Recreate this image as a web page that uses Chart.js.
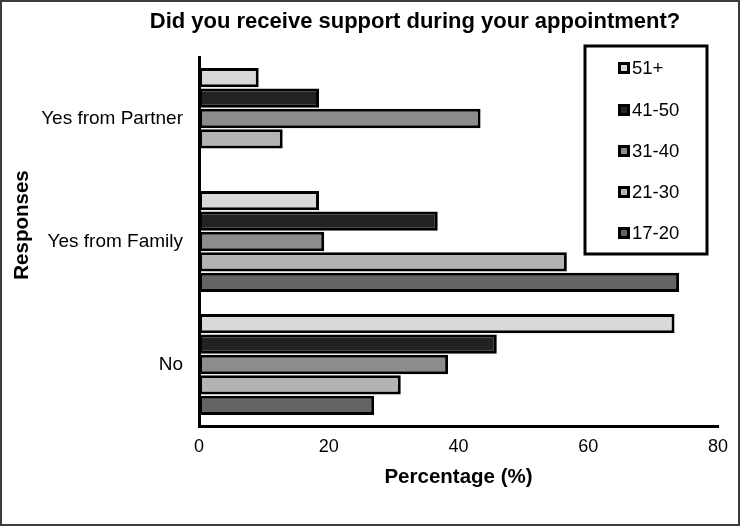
<!DOCTYPE html>
<html>
<head>
<meta charset="utf-8">
<script src="https://cdn.jsdelivr.net/npm/chart.js@4/dist/chart.umd.min.js"></script>
<style>
  html, body { margin: 0; padding: 0; background: #fff; }
  canvas { display: block; }
</style>
</head>
<body>
<canvas id="c" width="740" height="526"></canvas>
<script>
const chartTitle = "Did you receive support during your appointment?";
const xTitle = "Percentage (%)";
const yTitle = "Responses";
const categories = ["Yes from Partner", "Yes from Family", "No"];
const seriesNames = ["51+", "41-50", "31-40", "21-30", "17-20"];
const age51plus = [9.2, 18.5, 73.3];
const age41to50 = [18.5, 36.8, 45.9];
const age31to40 = [43.4, 19.3, 38.4];
const age21to30 = [12.9, 56.7, 31.1];
const age17to20 = [null, 74.0, 27.0];
const xTicks = [0, 20, 40, 60, 80];

const seriesValues = [age51plus, age41to50, age31to40, age21to30, age17to20];
const seriesColors = ["#d9d9d9", "#222222", "#8c8c8c", "#b3b3b3", "#646464"];

const FONT = '"Liberation Sans", Arial, sans-serif';

const decor = {
  id: 'decor',
  afterDraw(chart) {
    const ctx = chart.ctx;
    ctx.save();
    // outer frame
    ctx.strokeStyle = '#3c3c3c';
    ctx.lineWidth = 2;
    ctx.strokeRect(1, 1, 738, 524);
    // title
    ctx.fillStyle = '#000';
    ctx.font = 'bold 22px ' + FONT;
    ctx.textAlign = 'center';
    ctx.textBaseline = 'middle';
    ctx.fillText(chartTitle, 415, 22);
    // y title
    ctx.save();
    ctx.translate(22, 225);
    ctx.rotate(-Math.PI / 2);
    ctx.font = 'bold 20.5px ' + FONT;
    ctx.fillText(yTitle, 0, 0);
    ctx.restore();
    // legend box
    ctx.fillStyle = '#fff';
    ctx.fillRect(585, 46, 122, 208);
    ctx.strokeStyle = '#000';
    ctx.lineWidth = 3;
    ctx.strokeRect(585, 46, 122, 208);
    const ys = [68, 110, 151, 192, 233];
    ctx.font = '18.5px ' + FONT;
    ctx.textAlign = 'left';
    chart.data.datasets.forEach((ds, i) => {
      const y = ys[i];
      ctx.fillStyle = '#000';
      ctx.fillRect(618, y - 6, 12, 12);
      ctx.fillStyle = ds.backgroundColor;
      ctx.fillRect(621, y - 3, 6, 6);
      ctx.fillStyle = '#000';
      ctx.fillText(ds.label, 632, y + 1);
    });
    ctx.restore();
  }
};

new Chart(document.getElementById('c'), {
  type: 'bar',
  data: {
    labels: categories,
    datasets: seriesNames.map((name, i) => ({
      label: name,
      data: seriesValues[i],
      backgroundColor: seriesColors[i],
      borderColor: '#000',
      borderWidth: 3,
      borderSkipped: false,
      barPercentage: 0.95,
      categoryPercentage: 0.83
    }))
  },
  options: {
    indexAxis: 'y',
    responsive: false,
    animation: false,
    devicePixelRatio: 1,
    layout: { padding: { top: 57, right: 22, bottom: 36, left: 0 } },
    plugins: {
      legend: { display: false },
      title: { display: false },
      tooltip: { enabled: false }
    },
    scales: {
      x: {
        min: 0, max: 80,
        afterBuildTicks(scale) { scale.ticks = xTicks.map(v => ({ value: v })); },
        grid: { display: false, drawTicks: false },
        border: { display: true, color: '#000', width: 3 },
        ticks: { color: '#000', font: { family: FONT, size: 18 }, padding: 10, maxRotation: 0 },
        title: { display: true, text: xTitle, color: '#000', font: { family: FONT, size: 20.5, weight: 'bold' }, padding: { top: 4, bottom: 0 } },
        afterFit(scale) { scale.height = 64; }
      },
      y: {
        grid: { display: false, drawTicks: false },
        border: { display: true, color: '#000', width: 3 },
        ticks: { color: '#000', font: { family: FONT, size: 19 }, padding: 16 },
        afterFit(scale) { scale.width = 199; }
      }
    }
  },
  plugins: [decor]
});
</script>
</body>
</html>
